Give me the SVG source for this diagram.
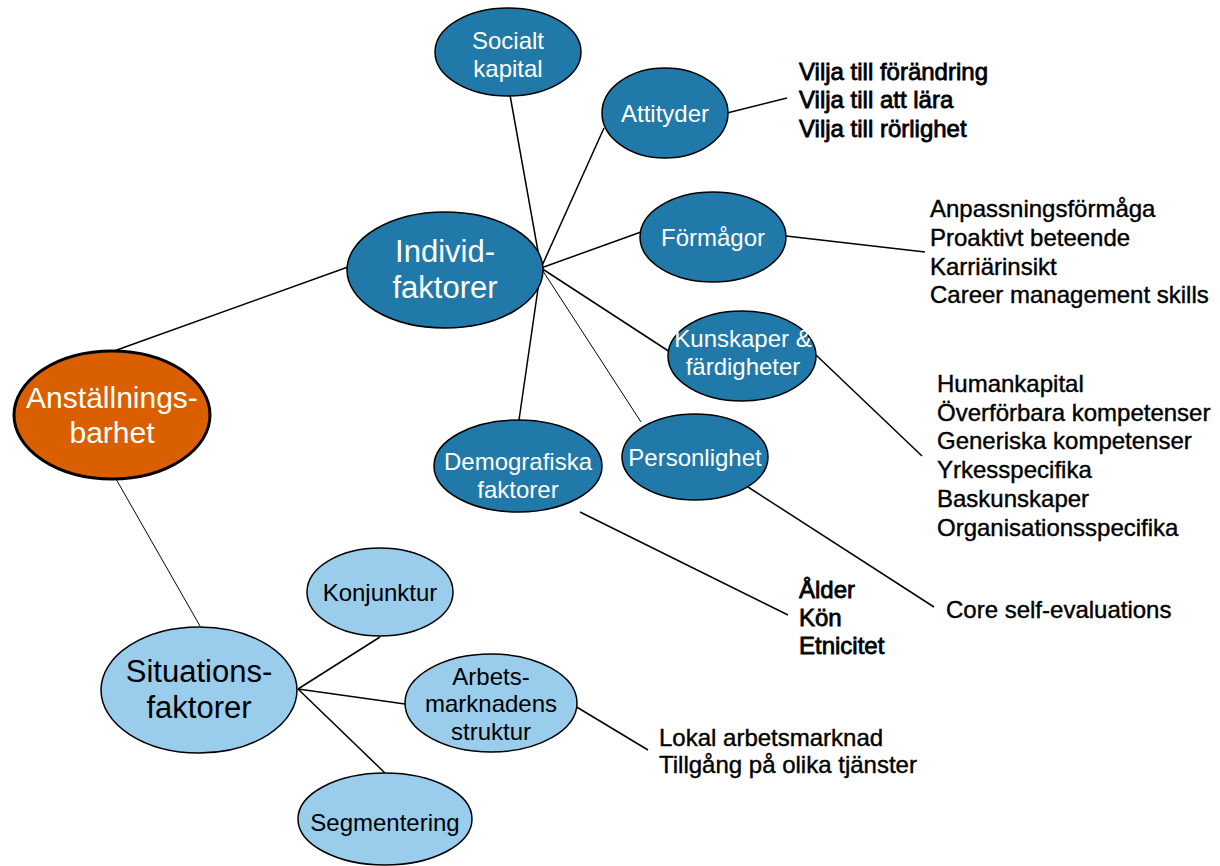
<svg xmlns="http://www.w3.org/2000/svg" width="1220" height="866" viewBox="0 0 1220 866">
  <style>
    .lbl { font-family: "Liberation Sans", Arial, sans-serif; text-anchor: middle; }
    .dark ellipse { fill: #2079A9; stroke: #000; stroke-width: 1.5; }
    .dark text { fill: #fff; font-size: 24px; }
    .light ellipse { fill: #99CDEB; stroke: #000; stroke-width: 1.5; }
    .light text { fill: #000; font-size: 24px; }
    .big { font-size: 31px !important; }
    .note { font-family: "Liberation Sans", Arial, sans-serif; font-size: 24px; fill: #000; stroke: #000; stroke-width: 0.4; }
    .heavy { stroke-width: 0.8; }
    .edges line { stroke: #000; stroke-width: 1.5; }
    .edges line.thin { stroke-width: 1; }
  </style>
  <rect width="1220" height="866" fill="#fff"/>

  <!-- connectors -->
  <g id="connectors" class="edges">
    <line x1="114" y1="351" x2="348" y2="267"/>
    <line class="thin" x1="116" y1="479" x2="200" y2="626"/>
    <line x1="541" y1="268" x2="510" y2="95"/>
    <line x1="541" y1="268" x2="604" y2="128"/>
    <line x1="541" y1="268" x2="641" y2="232"/>
    <line x1="541" y1="268" x2="670" y2="352"/>
    <line class="thin" x1="541" y1="268" x2="641" y2="422"/>
    <line x1="541" y1="268" x2="519" y2="420"/>
    <line x1="727" y1="113" x2="787" y2="98"/>
    <line x1="786" y1="236" x2="925" y2="252"/>
    <line x1="816" y1="355" x2="922" y2="456"/>
    <line x1="748" y1="487" x2="934" y2="607"/>
    <line x1="580" y1="512" x2="788" y2="615"/>
    <line x1="298" y1="689" x2="380" y2="637"/>
    <line x1="298" y1="689" x2="405" y2="704"/>
    <line x1="298" y1="689" x2="385" y2="773"/>
    <line x1="570" y1="703" x2="648" y2="750"/>
  </g>

  <!-- root node -->
  <g id="anstallningsbarhet" class="lbl">
    <ellipse cx="112" cy="415" rx="98" ry="64" fill="#D95F00" stroke="#000" stroke-width="3"/>
    <text x="112" y="408" font-size="30" fill="#fff">Anställnings-</text>
    <text x="112" y="443" font-size="30" fill="#fff">barhet</text>
  </g>

  <g id="individfaktorer" class="lbl dark">
    <ellipse cx="445" cy="270" rx="98" ry="58"/>
    <text class="big" x="445" y="262">Individ-</text>
    <text class="big" x="445" y="298">faktorer</text>
  </g>

  <g id="socialt-kapital" class="lbl dark">
    <ellipse cx="508" cy="52" rx="73" ry="44"/>
    <text x="508" y="49">Socialt</text>
    <text x="508" y="77">kapital</text>
  </g>

  <g id="attityder" class="lbl dark">
    <ellipse cx="665" cy="113" rx="63" ry="45"/>
    <text x="665" y="122">Attityder</text>
  </g>

  <g id="formagor" class="lbl dark">
    <ellipse cx="713" cy="237" rx="73" ry="45"/>
    <text x="713" y="246">Förmågor</text>
  </g>

  <g id="kunskaper" class="lbl dark">
    <ellipse cx="742" cy="356" rx="74" ry="45"/>
    <text x="743" y="347">Kunskaper &amp;</text>
    <text x="743" y="375">färdigheter</text>
  </g>

  <g id="personlighet" class="lbl dark">
    <ellipse cx="695" cy="457" rx="73" ry="43"/>
    <text x="695" y="466">Personlighet</text>
  </g>

  <g id="demografiska" class="lbl dark">
    <ellipse cx="518" cy="466" rx="84" ry="46"/>
    <text x="518" y="470">Demografiska</text>
    <text x="518" y="498">faktorer</text>
  </g>

  <g id="situationsfaktorer" class="lbl light">
    <ellipse cx="199" cy="690" rx="98" ry="63"/>
    <text class="big" x="199" y="682">Situations-</text>
    <text class="big" x="199" y="718">faktorer</text>
  </g>

  <g id="konjunktur" class="lbl light">
    <ellipse cx="380" cy="592" rx="73" ry="44"/>
    <text x="380" y="601">Konjunktur</text>
  </g>

  <g id="arbetsmarknadens-struktur" class="lbl light">
    <ellipse cx="491" cy="703" rx="86" ry="49"/>
    <text x="491" y="685">Arbets-</text>
    <text x="491" y="712">marknadens</text>
    <text x="491" y="740">struktur</text>
  </g>

  <g id="segmentering" class="lbl light">
    <ellipse cx="385" cy="819" rx="87" ry="46"/>
    <text x="385" y="831">Segmentering</text>
  </g>

  <!-- leaf annotations -->
  <g id="attityder-items" class="note heavy">
    <text x="799" y="80">Vilja till förändring</text>
    <text x="799" y="108">Vilja till att lära</text>
    <text x="799" y="137">Vilja till rörlighet</text>
  </g>
  <g id="formagor-items" class="note">
    <text x="930" y="217">Anpassningsförmåga</text>
    <text x="930" y="246">Proaktivt beteende</text>
    <text x="930" y="275">Karriärinsikt</text>
    <text x="930" y="303">Career management skills</text>
  </g>
  <g id="kunskaper-items" class="note">
    <text x="937" y="392">Humankapital</text>
    <text x="937" y="421">Överförbara kompetenser</text>
    <text x="937" y="449">Generiska kompetenser</text>
    <text x="937" y="478">Yrkesspecifika</text>
    <text x="937" y="507">Baskunskaper</text>
    <text x="937" y="536">Organisationsspecifika</text>
  </g>
  <g id="demografiska-items" class="note heavy">
    <text x="799" y="598">Ålder</text>
    <text x="799" y="626">Kön</text>
    <text x="799" y="654">Etnicitet</text>
  </g>
  <g id="personlighet-items" class="note">
    <text x="946" y="618">Core self-evaluations</text>
  </g>
  <g id="arbetsmarknad-items" class="note">
    <text x="659" y="746">Lokal arbetsmarknad</text>
    <text x="659" y="773">Tillgång på olika tjänster</text>
  </g>
</svg>
